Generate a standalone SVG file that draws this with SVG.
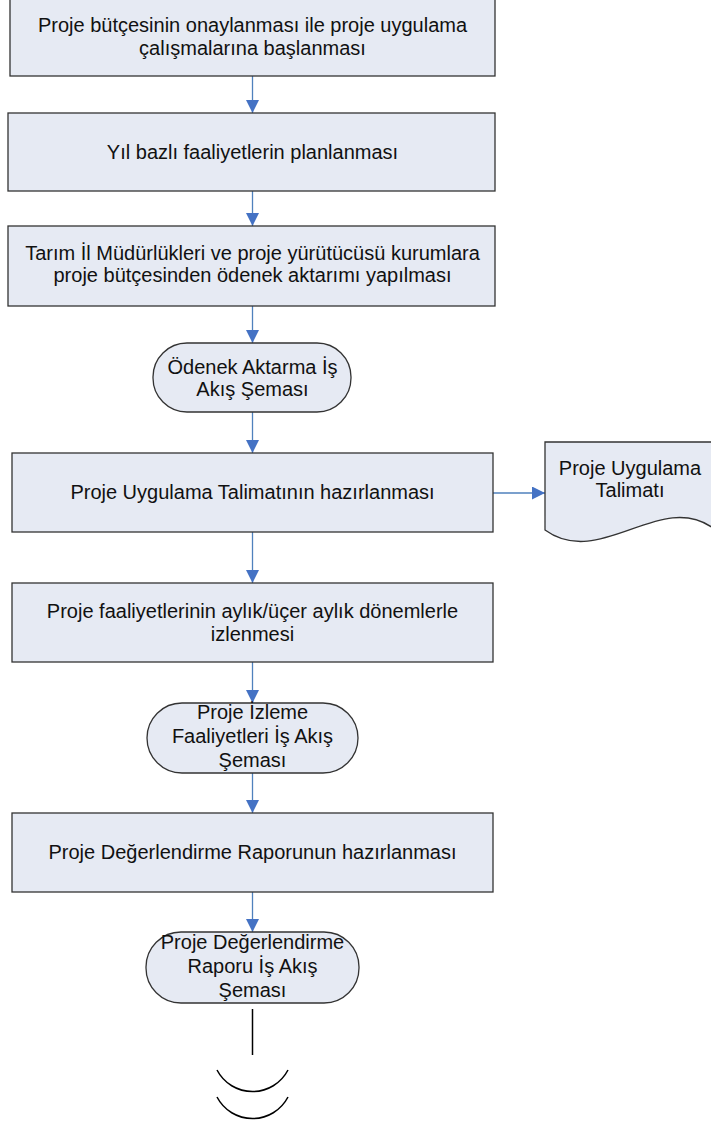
<svg xmlns="http://www.w3.org/2000/svg" width="711" height="1126" viewBox="0 0 711 1126">
<style>
.box{fill:#E6EAF3;stroke:#333;stroke-width:1.3}
.t{font-family:"Liberation Sans",Arial,sans-serif;font-size:20px;fill:#111;text-anchor:middle}
.c{stroke:#4F81BD;stroke-width:1.3;fill:none}
.k{stroke:#000;stroke-width:1.5;fill:none}
</style>
<defs>
<marker id="ah" markerUnits="userSpaceOnUse" markerWidth="14" markerHeight="14" refX="13" refY="6.5" orient="auto">
<path d="M0,0 L13,6.5 L0,13 z" fill="#4472C4"/>
</marker>
</defs>
<rect width="711" height="1126" fill="#fff"/>
<g id="connectors">
<line class="c" x1="252.5" y1="76" x2="252.5" y2="113" marker-end="url(#ah)"/>
<line class="c" x1="252.5" y1="191" x2="252.5" y2="226" marker-end="url(#ah)"/>
<line class="c" x1="252.5" y1="306" x2="252.5" y2="343" marker-end="url(#ah)"/>
<line class="c" x1="252.5" y1="412" x2="252.5" y2="453" marker-end="url(#ah)"/>
<line class="c" x1="493" y1="493" x2="545" y2="493" marker-end="url(#ah)"/>
<line class="c" x1="252.5" y1="532" x2="252.5" y2="583" marker-end="url(#ah)"/>
<line class="c" x1="252.5" y1="662" x2="252.5" y2="703" marker-end="url(#ah)"/>
<line class="c" x1="252.5" y1="773" x2="252.5" y2="813" marker-end="url(#ah)"/>
<line class="c" x1="252.5" y1="892" x2="252.5" y2="932" marker-end="url(#ah)"/>
<line class="k" x1="252.5" y1="1009" x2="252.5" y2="1055"/>
<path class="k" d="M217,1070 A40,40 0 0 0 288,1070"/>
<path class="k" d="M217,1097 A40,40 0 0 0 288,1097"/>
</g>
<g id="n1">
<rect class="box" x="10" y="-2" width="485" height="78"/>
<text class="t" x="252.5" y="32">Proje bütçesinin onaylanması ile proje uygulama</text>
<text class="t" x="252.5" y="55">çalışmalarına başlanması</text>
</g>
<g id="n2">
<rect class="box" x="8" y="113" width="487" height="78"/>
<text class="t" x="252.5" y="159">Yıl bazlı faaliyetlerin planlanması</text>
</g>
<g id="n3">
<rect class="box" x="8" y="226" width="487" height="80"/>
<text class="t" x="252.5" y="260">Tarım İl Müdürlükleri ve proje yürütücüsü kurumlara</text>
<text class="t" x="252.5" y="282">proje bütçesinden ödenek aktarımı yapılması</text>
</g>
<g id="n4">
<rect class="box" x="153" y="343" width="198" height="69" rx="34" ry="34"/>
<text class="t" x="252.5" y="374">Ödenek Aktarma İş</text>
<text class="t" x="252.5" y="396">Akış Şeması</text>
</g>
<g id="n5">
<rect class="box" x="12" y="453" width="481" height="79"/>
<text class="t" x="252.5" y="499">Proje Uygulama Talimatının hazırlanması</text>
</g>
<g id="n6">
<path class="box" d="M545,442 H713 V528 C660,490 600,570 545,530 Z"/>
<text class="t" x="630" y="475">Proje Uygulama</text>
<text class="t" x="630" y="497">Talimatı</text>
</g>
<g id="n7">
<rect class="box" x="12" y="583" width="481" height="79"/>
<text class="t" x="252.5" y="618">Proje faaliyetlerinin aylık/üçer aylık dönemlerle</text>
<text class="t" x="252.5" y="641">izlenmesi</text>
</g>
<g id="n8">
<rect class="box" x="147" y="703" width="211" height="70" rx="35" ry="35"/>
<text class="t" x="252.5" y="719">Proje İzleme</text>
<text class="t" x="252.5" y="743">Faaliyetleri İş Akış</text>
<text class="t" x="252.5" y="767">Şeması</text>
</g>
<g id="n9">
<rect class="box" x="12" y="813" width="481" height="79"/>
<text class="t" x="252.5" y="859">Proje Değerlendirme Raporunun hazırlanması</text>
</g>
<g id="n10">
<rect class="box" x="146" y="932" width="213" height="71" rx="35" ry="35"/>
<text class="t" x="252.5" y="949">Proje Değerlendirme</text>
<text class="t" x="252.5" y="973">Raporu İş Akış</text>
<text class="t" x="252.5" y="997">Şeması</text>
</g>
</svg>
